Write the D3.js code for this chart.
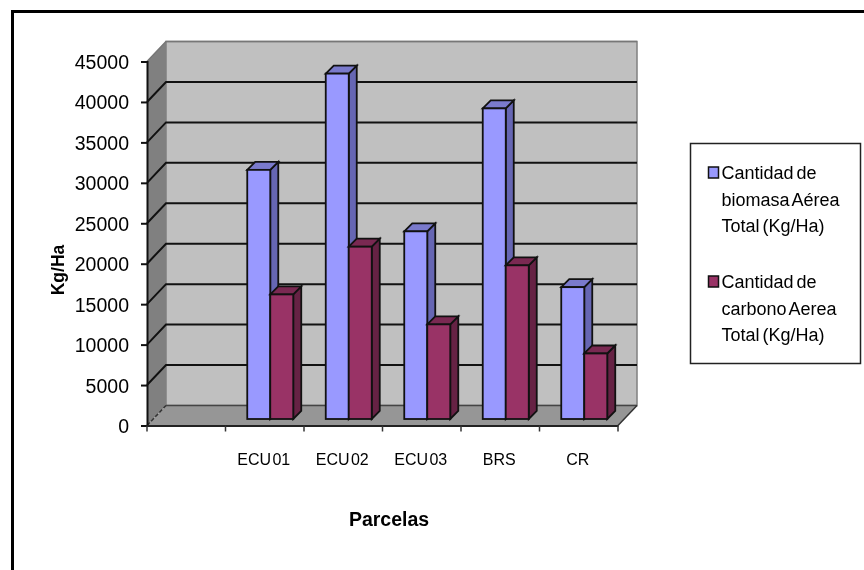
<!DOCTYPE html>
<html>
<head>
<meta charset="utf-8">
<script src="https://cdnjs.cloudflare.com/ajax/libs/d3/7.8.5/d3.min.js"></script>
<style>
html, body { margin: 0; padding: 0; background: #fff; overflow: hidden; }
svg { display: block; filter: blur(0.4px); }
text { font-family: "Liberation Sans", Arial, sans-serif; fill: #000; }
</style>
</head>
<body>
<div id="chart"></div>
<script>
var categories = ["", "ECU 01", "ECU 02", "ECU 03", "BRS", "CR"];
var biomasa = [null, 30800, 42700, 23200, 38400, 16300];
var carbono = [null, 15400, 21300, 11700, 19000, 8100];
var yTicks = [0, 5000, 10000, 15000, 20000, 25000, 30000, 35000, 40000, 45000];
var legendBiomasa = ["Cantidad de", "biomasa Aérea", "Total (Kg/Ha)"];
var legendCarbono = ["Cantidad de", "carbono Aerea", "Total (Kg/Ha)"];

var width = 864, height = 570;

// depth of the 3d box and of the bars
var wallDx = 19, wallDy = -20;
var barDepth = 8;
var barPlaneX = 5.5, barPlaneY = 6.5;

var svg = d3.select("#chart").append("svg")
    .attr("width", width)
    .attr("height", height);

// frame, only top and left are inside the picture
svg.append("path")
    .attr("d", "M864,11.5H12.5V570")
    .attr("fill", "none")
    .attr("stroke", "#000")
    .attr("stroke-width", 3);

var x = d3.scaleBand().domain(categories.map(function(d, i){ return i; })).range([147, 618]);
var y = d3.scaleLinear().domain([0, 45000]).range([425.5, 61.5]);
var serie = d3.scaleBand().domain([0, 1]).range([-23, 23]);

var x0 = x.range()[0], x1 = x.range()[1];
var y0 = y(0), yTop = y(45000);

function poly(points){
    return "M" + points.map(function(p){ return p.join(","); }).join("L") + "Z";
}

// left wall, back wall, floor
svg.append("path")
    .attr("d", poly([[x0, yTop], [x0 + wallDx, yTop + wallDy], [x0 + wallDx, y0 + wallDy], [x0, y0]]))
    .attr("fill", "#808080");
svg.append("path")
    .attr("d", poly([[x0 + wallDx, yTop + wallDy], [x1 + wallDx, yTop + wallDy], [x1 + wallDx, y0 + wallDy], [x0 + wallDx, y0 + wallDy]]))
    .attr("fill", "#c0c0c0")
    .attr("stroke", "#808080")
    .attr("stroke-width", 1.5);
svg.append("path")
    .attr("d", poly([[x0, y0], [x0 + wallDx, y0 + wallDy], [x1 + wallDx, y0 + wallDy], [x1, y0]]))
    .attr("fill", "#969696");

// grid lines, the zero one has a dashed diagonal
svg.append("g").selectAll("path")
    .data(yTicks.filter(function(d){ return d != 0; }))
    .enter()
    .append("path")
    .attr("d", function(d){
        return "M" + x0 + "," + y(d) + "L" + (x0 + wallDx) + "," + (y(d) + wallDy) + "H" + (x1 + wallDx);
    })
    .attr("fill", "none")
    .attr("stroke", function(d){ return d == 45000 ? "#777" : "#111"; })
    .attr("stroke-width", function(d){ return d == 45000 ? 1.5 : 2; });
svg.append("path")
    .attr("d", "M" + x0 + "," + y0 + "L" + (x0 + wallDx) + "," + (y0 + wallDy))
    .attr("stroke", "#333")
    .attr("stroke-width", 1.5)
    .attr("stroke-dasharray", "4,2");
svg.append("path")
    .attr("d", "M" + (x0 + wallDx) + "," + (y0 + wallDy) + "H" + (x1 + wallDx))
    .attr("stroke", "#444")
    .attr("stroke-width", 1.5);

// floor right edge
svg.append("path")
    .attr("d", "M" + x1 + "," + y0 + "L" + (x1 + wallDx) + "," + (y0 + wallDy))
    .attr("stroke", "#333")
    .attr("stroke-width", 1.5);

// axes
var yAxis = d3.axisLeft(y).tickValues(yTicks).tickSize(6).tickPadding(12).tickFormat(d3.format("d"));
var gy = svg.append("g").attr("transform", "translate(" + x0 + ",0)").call(yAxis);
gy.selectAll("text").attr("font-size", 19.5).style("font-family", "'Liberation Sans', Arial, sans-serif").attr("dy", "0.36em");
gy.selectAll("line, path").attr("stroke", "#111").attr("stroke-width", 2);

var xAxis = d3.axisBottom(x).tickSize(0).tickPadding(28).tickFormat(function(d){ return categories[d]; });
var gx = svg.append("g").attr("transform", "translate(0," + y0 + ")").call(xAxis);
gx.selectAll("text").attr("font-size", 16).style("font-family", "'Liberation Sans', Arial, sans-serif")
    .attr("word-spacing", -3)
    .attr("dx", -1);
gx.select(".domain").attr("stroke", "#222").attr("stroke-width", 2);

// tick marks sit between the categories
svg.append("g").selectAll("line")
    .data(categories.map(function(d, i){ return i; }).concat([categories.length]))
    .enter()
    .append("line")
    .attr("x1", function(d){ return x0 + d * x.step(); })
    .attr("x2", function(d){ return x0 + d * x.step(); })
    .attr("y1", y0)
    .attr("y2", y0 + 6)
    .attr("stroke", "#333")
    .attr("stroke-width", 1.5);

// bars
var seriesData = [
    {values: biomasa, front: "#9999ff", side: "#6666b3", top: "#7a7acc"},
    {values: carbono, front: "#993366", side: "#662244", top: "#7a2952"}
];

function drawBar(g, i, s, si){
    var v = s.values[i];
    if(v == null) return;
    var left = x(i) + x.bandwidth() / 2 + barPlaneX + serie(si);
    var right = left + serie.bandwidth();
    var base = y(0) - barPlaneY;
    var top = y(v) - barPlaneY;
    var line = {stroke: "#111", width: 1.8};

    g.append("path")
        .attr("d", poly([[right, top], [right + barDepth, top - barDepth], [right + barDepth, base - barDepth], [right, base]]))
        .attr("fill", s.side).attr("stroke", line.stroke).attr("stroke-width", line.width);
    g.append("path")
        .attr("d", poly([[left, top], [left + barDepth, top - barDepth], [right + barDepth, top - barDepth], [right, top]]))
        .attr("fill", s.top).attr("stroke", line.stroke).attr("stroke-width", line.width);
    g.append("rect")
        .attr("x", left).attr("y", top)
        .attr("width", right - left).attr("height", base - top)
        .attr("fill", s.front).attr("stroke", line.stroke).attr("stroke-width", line.width);
}

var bars = svg.append("g");
categories.forEach(function(c, i){
    seriesData.forEach(function(s, si){
        drawBar(bars, i, s, si);
    });
});

// axis titles
svg.append("text")
    .attr("transform", "translate(64,270) rotate(-90)")
    .attr("text-anchor", "middle")
    .attr("font-size", 17.5)
    .attr("font-weight", "bold")
    .text("Kg/Ha");
svg.append("text")
    .attr("x", 389)
    .attr("y", 526)
    .attr("text-anchor", "middle")
    .attr("font-size", 19.5)
    .attr("font-weight", "bold")
    .text("Parcelas");

// legend
var legend = svg.append("g");
legend.append("rect")
    .attr("x", 690.5).attr("y", 143.5)
    .attr("width", 170).attr("height", 220)
    .attr("fill", "#fff")
    .attr("stroke", "#222")
    .attr("stroke-width", 1.5);

function legendItem(lines, color, yStart){
    legend.append("rect")
        .attr("x", 708.5).attr("y", yStart - 12)
        .attr("width", 10).attr("height", 11)
        .attr("fill", color)
        .attr("stroke", "#111")
        .attr("stroke-width", 1.5);
    legend.selectAll(null)
        .data(lines)
        .enter()
        .append("text")
        .attr("x", 721.5)
        .attr("y", function(d, i){ return yStart + i * 26.5; })
        .attr("font-size", 18)
        .attr("word-spacing", -2)
        .text(function(d){ return d; });
}
legendItem(legendBiomasa, "#9999ff", 179);
legendItem(legendCarbono, "#993366", 288);
</script>
</body>
</html>
